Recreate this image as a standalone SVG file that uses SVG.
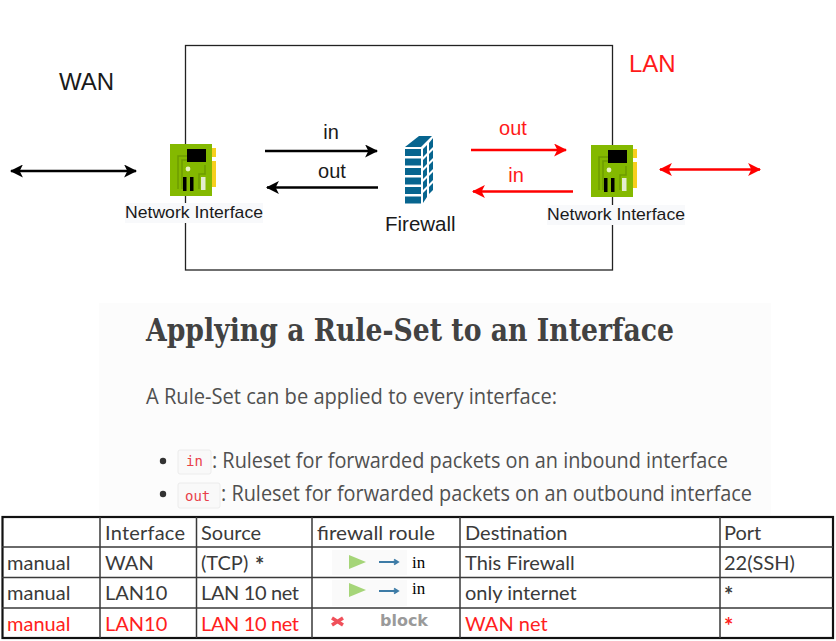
<svg xmlns="http://www.w3.org/2000/svg" width="836" height="641" viewBox="0 0 836 641">
<style>
.d{font-family:"Liberation Sans",Arial,sans-serif;fill:#1a1a1a}
.r{fill:#ff1a1a}
.cb{stroke:#000;stroke-width:2.4;fill:none}
.cr{stroke:#ff0000;stroke-width:2.4;fill:none}
.t{font-family:Lato,"Open Sans",sans-serif;font-size:20px;fill:#3a3a3a}
.tr{fill:#ff2020}
.st{font-weight:700;font-size:22px}
.g{stroke:#3a3a3a;stroke-width:1.5;fill:none}
.b{font-family:"Open Sans",sans-serif;font-size:22.500px;fill:#505050}
.code{font-family:"DejaVu Sans Mono",monospace;font-size:14px;fill:#e8404a}
.chip{fill:#f9f9f9;stroke:#ececec;stroke-width:1}
.bk{fill:#07658f}
</style>
<defs>
<marker id="ab" viewBox="0 0 12 12" refX="11" refY="6" markerUnits="userSpaceOnUse" markerWidth="13" markerHeight="13" orient="auto-start-reverse"><path d="M0 0L12 6L0 12L3 6Z" fill="#000"/></marker>
<marker id="ar" viewBox="0 0 12 12" refX="11" refY="6" markerUnits="userSpaceOnUse" markerWidth="13" markerHeight="13" orient="auto-start-reverse"><path d="M0 0L12 6L0 12L3 6Z" fill="#f00"/></marker>
<g id="nic">
<rect x="0" y="0" width="42" height="52" fill="#84b900"/>
<rect x="42" y="4" width="4" height="9" fill="#f7cf1d"/>
<rect x="42" y="17" width="4" height="26" fill="#f7cf1d"/>
<path d="M8 45V12H17M12 45V16H17M35 21V30H29V45" fill="none" stroke="#6d9c00" stroke-width="1.500"/>
<rect x="17" y="5" width="19" height="13" fill="#000"/>
<circle cx="18" cy="25" r="2.400" fill="#e8f3c4"/>
<rect x="13" y="33" width="3.500" height="14" fill="#000"/>
<rect x="20" y="33" width="3.500" height="14" fill="#000"/>
<rect x="31" y="33" width="4.500" height="13" fill="#e4ecd0"/>
</g>
</defs>
<rect width="836" height="641" fill="#fff"/>
<g id="boundary"><rect x="185.500" y="45.500" width="427" height="224.500" fill="none" stroke="#222" stroke-width="1.300"/></g>
<g id="wan-label"><text class="d" x="59" y="90" font-size="24">WAN</text></g>
<g id="lan-label"><text class="d r" x="629" y="72" font-size="24">LAN</text></g>
<g id="connectors">
<path class="cb" d="M11 171H136" marker-start="url(#ab)" marker-end="url(#ab)"/>
<path class="cb" d="M265 151H377" marker-end="url(#ab)"/>
<path class="cb" d="M378 187.500H267" marker-end="url(#ab)"/>
<path class="cr" d="M471 150H566" marker-end="url(#ar)"/>
<path class="cr" d="M573 191.500H473" marker-end="url(#ar)"/>
<path class="cr" d="M660 169.500H760" marker-start="url(#ar)" marker-end="url(#ar)"/>
</g>
<g id="connector-labels">
<text class="d" x="331" y="139" font-size="20" text-anchor="middle">in</text>
<text class="d" x="332" y="178" font-size="20" text-anchor="middle">out</text>
<text class="d r" x="513" y="135" font-size="20" text-anchor="middle">out</text>
<text class="d r" x="516" y="182" font-size="20" text-anchor="middle">in</text>
</g>
<g id="nic-left">
<use href="#nic" x="170" y="144"/>
<rect x="125" y="203" width="138" height="20" fill="#f8f9fb"/>
<text class="d" x="125" y="218" font-size="17" textLength="138" lengthAdjust="spacingAndGlyphs">Network Interface</text>
</g>
<g id="firewall">
<path class="bk" d="M405 147L419 136H432L421 147Z"/>
<rect class="bk" x="405" y="149" width="16" height="7"/>
<rect class="bk" x="405" y="158.500" width="16" height="7"/>
<rect class="bk" x="405" y="168" width="16" height="7"/>
<rect class="bk" x="405" y="177.500" width="16" height="7"/>
<rect class="bk" x="405" y="187" width="16" height="7"/>
<rect class="bk" x="405" y="196.500" width="16" height="7"/>
<path class="bk" d="M423 149L427 145V153L423 157ZM429 143L433 138V147L429 151ZM423 160L427 156V164L423 168ZM429 154L433 150V158L429 162ZM423 171L427 167V175L423 179ZM429 165L433 161V169L429 173ZM423 182L427 178V186L423 190ZM429 176L433 172V180L429 184ZM423 193L427 189V197L423 203ZM429 187L433 183V190L429 194Z"/>
<text class="d" x="385" y="231" font-size="20.500">Firewall</text>
</g>
<g id="nic-right">
<use href="#nic" x="591" y="145"/>
<rect x="547" y="205" width="138" height="20" fill="#f8f9fb"/>
<text class="d" x="547" y="220" font-size="17" textLength="138" lengthAdjust="spacingAndGlyphs">Network Interface</text>
</g>
<g id="rule-set-panel">
<rect x="99" y="303" width="672" height="212" fill="#fcfcfc"/>
<text x="146" y="341" font-family="'DejaVu Serif',serif" font-weight="700" font-size="32" fill="#424242" textLength="528" lengthAdjust="spacingAndGlyphs">Applying a Rule-Set to an Interface</text>
<text class="b" x="146" y="404" textLength="411" lengthAdjust="spacingAndGlyphs">A Rule-Set can be applied to every interface:</text>
<circle cx="163" cy="461" r="3.200" fill="#333"/>
<rect class="chip" x="178" y="450" width="33" height="24" rx="2"/>
<text class="code" x="186" y="466">in</text>
<text class="b" x="212" y="468" textLength="516" lengthAdjust="spacingAndGlyphs">: Ruleset for forwarded packets on an inbound interface</text>
<circle cx="163" cy="494" r="3.200" fill="#333"/>
<rect class="chip" x="178" y="483" width="42" height="25" rx="2"/>
<text class="code" x="185" y="501">out</text>
<text class="b" x="221" y="501" textLength="531" lengthAdjust="spacingAndGlyphs">: Ruleset for forwarded packets on an outbound interface</text>
</g>
<g id="rule-table">
<rect x="2.500" y="517" width="830.500" height="121" fill="#fff" stroke="#111" stroke-width="2.200"/>
<path class="g" d="M2 547H833M2 577.500H833M2 608H833M100 517V638M196.500 517V638M312 517V638M460 517V638M720 517V638"/>
<text class="t" x="105" y="540" textLength="80">Interface</text><text class="t" x="201" y="540">Source</text><text class="t" x="317" y="540" textLength="118" lengthAdjust="spacingAndGlyphs">firewall roule</text><text class="t" x="465" y="540">Destination</text><text class="t" x="724" y="540">Port</text>
<text class="t" x="7" y="570">manual</text><text class="t" x="105" y="570">WAN</text><text class="t" x="201" y="570">(TCP)</text><text class="t st" x="255" y="573">*</text><text class="t" x="465" y="570">This Firewall</text><text class="t" x="724" y="570">22(SSH)</text>
<text class="t" x="7" y="600">manual</text><text class="t" x="105" y="600">LAN10</text><text class="t" x="201" y="600" textLength="98">LAN 10 net</text><text class="t" x="465" y="600">only internet</text><text class="t st" x="724" y="603">*</text>
<text class="t tr" x="7" y="631">manual</text><text class="t tr" x="105" y="631">LAN10</text><text class="t tr" x="201" y="631" textLength="98">LAN 10 net</text><text class="t tr" x="465" y="631">WAN net</text><text class="t tr st" x="724" y="634">*</text>
<rect x="332" y="550" width="75" height="25" fill="#fafafa"/>
<rect x="332" y="580" width="75" height="26" fill="#fafafa"/>
<path d="M349 555L366 562L349 569Z" fill="#a5d578"/>
<path d="M349 583L366 590L349 597Z" fill="#a5d578"/>
<path d="M379 562H398M394 559.500L398 562L394 564.500M379 591H398M394 588.500L398 591L394 593.500" fill="none" stroke="#3d7ba6" stroke-width="1.800"/>
<text x="412" y="568" font-family="'Liberation Serif',serif" font-size="17" fill="#000">in</text>
<text x="412" y="594" font-family="'Liberation Serif',serif" font-size="17" fill="#000">in</text>
<path d="M332 618L343 625M343 618L332 625" stroke="#f0505a" stroke-width="3.500"/>
<text x="380" y="626" font-family="'DejaVu Sans',sans-serif" font-weight="700" font-size="15" fill="#9a9a9a" textLength="48" lengthAdjust="spacingAndGlyphs">block</text>
</g>
</svg>
